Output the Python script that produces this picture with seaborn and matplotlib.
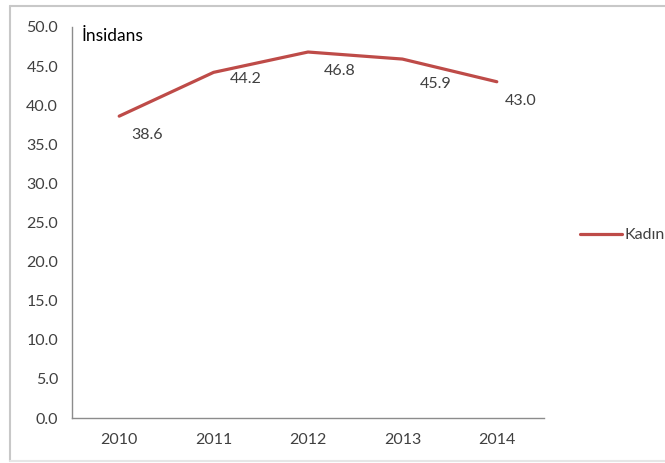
import numpy as np
import pandas as pd
import seaborn as sns
import matplotlib.pyplot as plt
from matplotlib.lines import Line2D

years = ["2010", "2011", "2012", "2013", "2014"]
kadin = [38.6, 44.2, 46.8, 45.9, 43.0]
series_name = "Kadın"
y_title = "İnsidans"

# label offsets in pixels (dx, dy) relative to each point
label_offsets = [(28, -19), (32, -7), (32, -19), (33, -25), (24, -19)]

sns.set_theme(style="white")
plt.rcParams["font.family"] = ["Lato", "DejaVu Sans"]

line_color = "#BE4B48"
text_color = "#404040"
axis_color = "#8C8C8C"
fs = 11.5

df = pd.DataFrame({"pos": np.arange(len(years)), "val": kadin, "series": series_name})

fig = plt.figure(figsize=(6.65, 4.63), dpi=100)
ax = fig.add_axes([72 / 665, 45 / 463, (544 - 72) / 665, (418 - 27) / 463])

sns.lineplot(data=df, x="pos", y="val", ax=ax, color=line_color, linewidth=2.3,
             legend=False)

ax.set_xlim(-0.5, len(years) - 0.5)
ax.set_ylim(0, 50)
ax.set_yticks(np.arange(0, 50.1, 5))
ax.set_yticklabels([f"{v:.1f}" for v in np.arange(0, 50.1, 5)])

# category axis: tick marks between categories, labels at centres
ax.set_xticks(np.arange(-0.5, len(years), 1.0))
ax.set_xticklabels([])
ax.set_xticks(np.arange(len(years)), minor=True)
ax.set_xticklabels(years, minor=True)
ax.tick_params(axis="x", which="major", length=5, width=1, color=axis_color, direction="out")
ax.tick_params(axis="x", which="minor", length=0, pad=11, labelsize=fs, labelcolor=text_color)
ax.tick_params(axis="y", length=5, width=1, color=axis_color, direction="out",
               pad=5, labelsize=fs, labelcolor=text_color)

for side in ["top", "right"]:
    ax.spines[side].set_visible(False)
for side in ["left", "bottom"]:
    ax.spines[side].set_color(axis_color)
    ax.spines[side].set_linewidth(1)

ax.set_xlabel("")
ax.set_ylabel("")

for i, (v, off) in enumerate(zip(kadin, label_offsets)):
    ax.annotate(f"{v:.1f}", (i, v), xytext=(off[0] * 0.72, off[1] * 0.72),
                textcoords="offset points", ha="center", va="center",
                fontsize=fs, color=text_color)

fig.text(82 / 665, 1 - 36 / 463, y_title, ha="left", va="center",
         fontsize=12.5, color="black")

handle = Line2D([], [], color=line_color, linewidth=2.3)
fig.legend([handle], [series_name], loc="center left",
           bbox_to_anchor=(566 / 665, 1 - 235 / 463), frameon=False,
           fontsize=fs, handlelength=2.6, handletextpad=0.15,
           labelcolor=text_color)

# outer chart border (top, left, bottom)
border = "#C8C8C8"
fig.add_artist(Line2D([10 / 665, 1], [1 - 6 / 463, 1 - 6 / 463], color=border, lw=1.5))
fig.add_artist(Line2D([10 / 665, 10 / 665], [1 - 6 / 463, 1 - 461 / 463], color=border, lw=1.5))
fig.add_artist(Line2D([10 / 665, 1], [1 - 461 / 463, 1 - 461 / 463], color="#E6E6E6", lw=1.5))

fig.savefig("out.png", dpi=100)
